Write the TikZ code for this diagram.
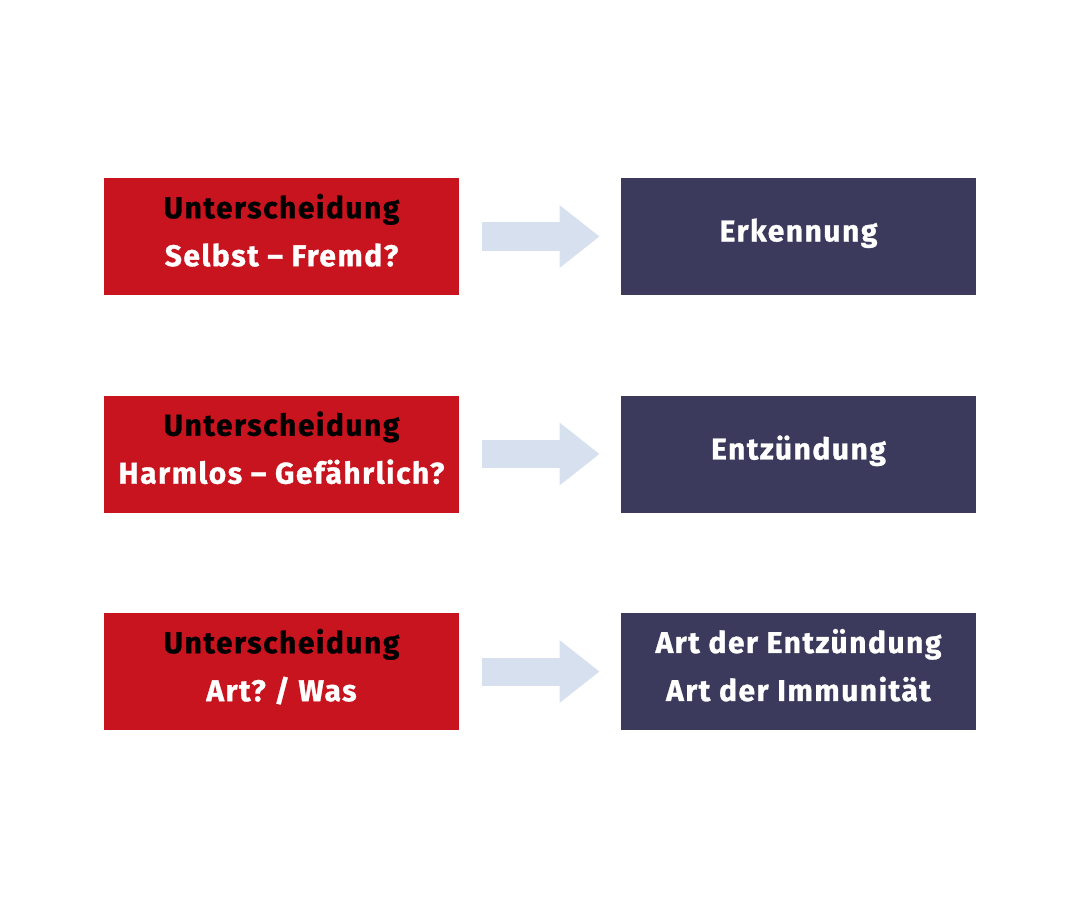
\documentclass[tikz,border=0pt]{standalone}
\usepackage{fontspec}
\setmainfont{Fira Sans}[BoldFeatures={FakeBold=1,LetterSpace=5}]
\usetikzlibrary{arrows.meta,positioning}
\frenchspacing

\definecolor{fremdred}{HTML}{C8141E}
\definecolor{antwortblue}{HTML}{3B3A5C}
\definecolor{pfeilblue}{HTML}{D6E0EE}

\begin{document}
\begin{tikzpicture}[x=0.5pt,y=-0.5pt,node distance=108.75pt and 258.5pt,on grid]
       \tikzstyle{frage}=[fill=fremdred,minimum width=177.5pt,minimum height=58.5pt,
         align=center,font=\fontsize{15}{24}\selectfont\bfseries,inner sep=0pt,text depth=6.5pt]
       \tikzstyle{antwort}=[frage,fill=antwortblue,text=white]
       \tikzstyle{pfeil}=[draw=pfeilblue,line width=14pt,shorten <=11.5pt,shorten >=10.5pt,
         -{Triangle[length=20pt,width=30pt,fill=pfeilblue]}]

       \useasboundingbox (0,0) rectangle (1080,909);

       \node[frage]   (r_1) at (281.5,236.5) {Unterscheidung\\\textcolor{white}{Selbst – Fremd?}};
       \node[antwort] (b_1) [right=of r_1]   {Erkennung};
       \node[frage]   (r_2) [below=of r_1]   {Unterscheidung\\\textcolor{white}{Harmlos – Gefährlich?}};
       \node[antwort] (b_2) [right=of r_2]   {Entzündung};
       \node[frage]   (r_3) [below=of r_2]   {Unterscheidung\\\textcolor{white}{Art? / Was}};
       \node[antwort] (b_3) [right=of r_3]   {Art der Entzündung\\Art der Immunität};

       \foreach \i in {1,2,3}
         \draw[pfeil] (r_\i) -- (b_\i);
     \end{tikzpicture}
\end{document}
